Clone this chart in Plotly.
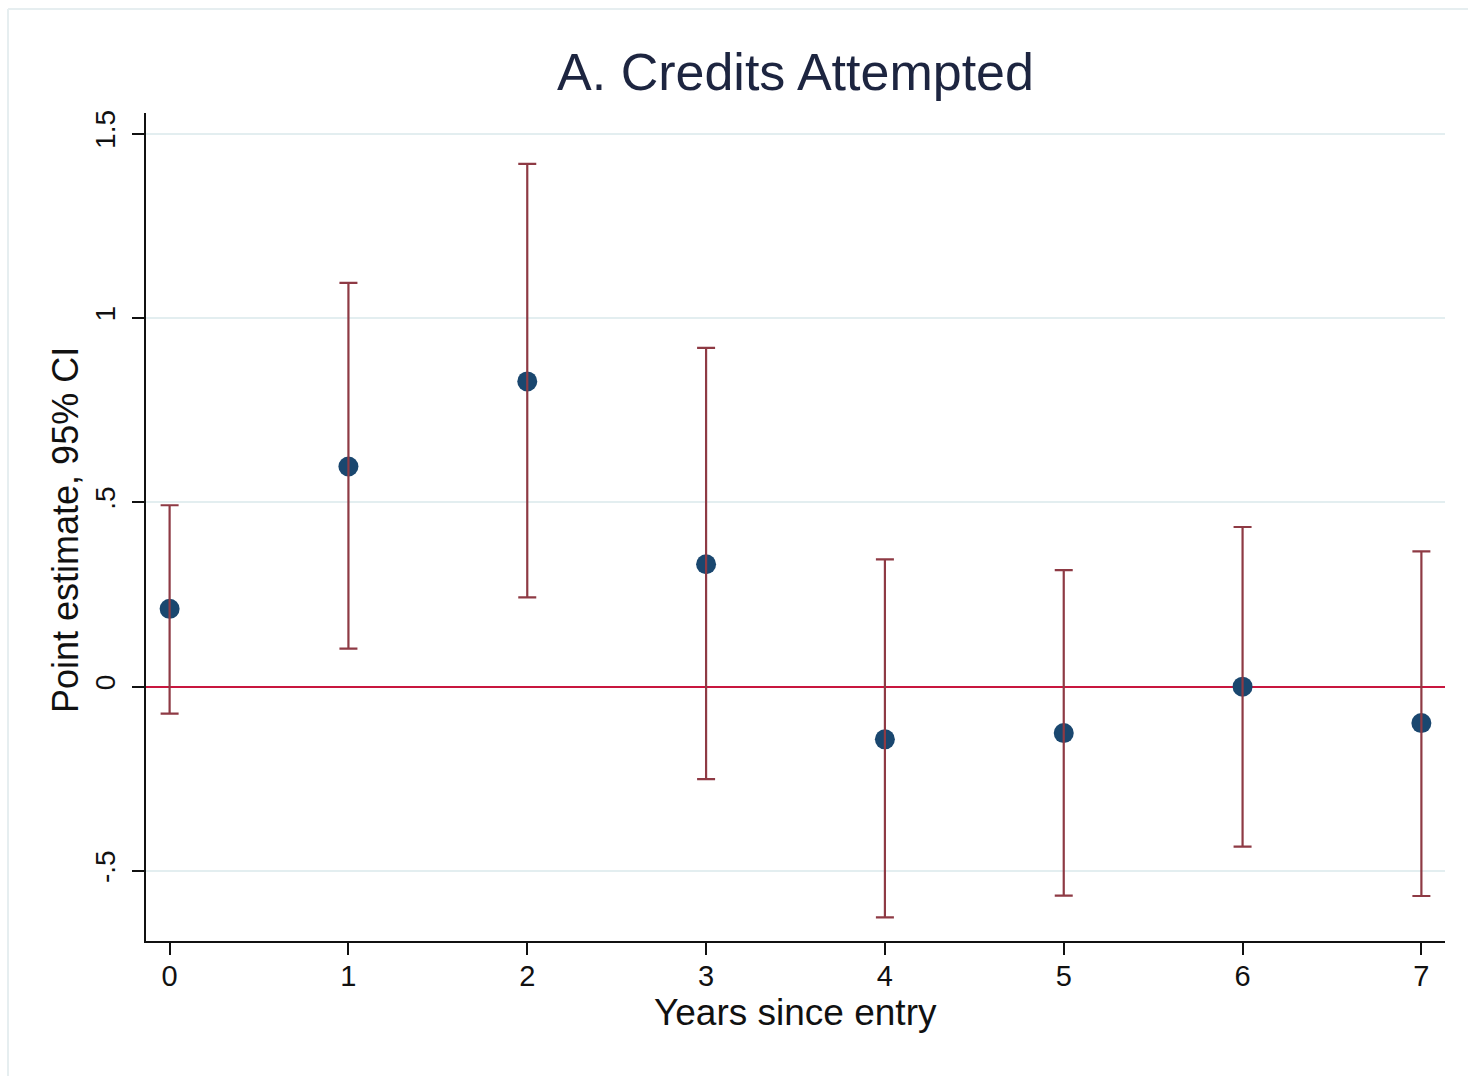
import plotly.graph_objects as go

# Event-study estimates: point estimate and 95% CI by years since entry
years = [0, 1, 2, 3, 4, 5, 6, 7]
estimate = [0.211, 0.597, 0.828, 0.332, -0.143, -0.126, 0.000, -0.099]
ci_low = [-0.073, 0.103, 0.242, -0.251, -0.626, -0.567, -0.434, -0.568]
ci_high = [0.492, 1.095, 1.418, 0.919, 0.345, 0.316, 0.433, 0.367]

y_ticks = [-0.5, 0, 0.5, 1, 1.5]
y_tick_text = ["-.5", "0", ".5", "1", "1.5"]

FONT = "Liberation Sans, Arial, sans-serif"
NAVY = "#1a476f"
MAROON = "#8e3a44"
ZERO_RED = "#c8173f"
GRID = "#e3eef0"

err_plus = [h - e for h, e in zip(ci_high, estimate)]
err_minus = [e - l for e, l in zip(estimate, ci_low)]

fig = go.Figure()

# point estimates
fig.add_trace(go.Scatter(
    x=years, y=estimate, mode="markers",
    marker=dict(color=NAVY, size=20, line=dict(width=0)),
    showlegend=False, hoverinfo="skip",
))

# confidence-interval caps, drawn over the markers
fig.add_trace(go.Scatter(
    x=years, y=estimate, mode="markers",
    marker=dict(color="rgba(0,0,0,0)", size=1),
    error_y=dict(type="data", symmetric=False, array=err_plus,
                 arrayminus=err_minus, color=MAROON, thickness=2.2, width=9),
    showlegend=False, hoverinfo="skip",
))

fig.update_layout(
    width=1468, height=1076,
    margin=dict(l=146, r=23, t=113, b=135),
    paper_bgcolor="white", plot_bgcolor="white",
    font=dict(family=FONT, color="#111111"),
    title=dict(text="A. Credits Attempted", x=0.5, xref="paper", xanchor="center",
               y=1 - 72 / 1076, yref="container", yanchor="middle",
               font=dict(size=52, color="#1d2540", family=FONT)),
    xaxis=dict(range=[-0.132, 7.132], tickvals=years, ticktext=[str(v) for v in years],
               showgrid=False, zeroline=False, showline=True, linecolor="#111111",
               linewidth=2, ticks="outside", ticklen=12, tickwidth=2,
               tickcolor="#111111", tickfont=dict(size=29, color="#111111"),
               ticklabelstandoff=-4),
    yaxis=dict(range=[-0.69, 1.556], tickvals=y_ticks, ticktext=y_tick_text,
               tickangle=-90, showgrid=True, gridcolor=GRID, gridwidth=2,
               zeroline=True, zerolinecolor=ZERO_RED, zerolinewidth=2.2,
               showline=True, linecolor="#111111", linewidth=2,
               ticks="outside", ticklen=12, tickwidth=2, tickcolor="#111111",
               tickfont=dict(size=28, color="#111111"), ticklabelstandoff=6),
    shapes=[
        # faint outer frame of the graph region
        dict(type="line", xref="paper", yref="paper",
             x0=(8 - 146) / 1299, x1=(1468 - 146) / 1299,
             y0=1 + (113 - 9) / 828, y1=1 + (113 - 9) / 828,
             line=dict(color="#e6eef0", width=2)),
        dict(type="line", xref="paper", yref="paper",
             x0=(8 - 146) / 1299, x1=(8 - 146) / 1299,
             y0=1 + (113 - 9) / 828, y1=(941 - 1076) / 828,
             line=dict(color="#e6eef0", width=2)),
    ],
    annotations=[
        dict(text="Years since entry", xref="paper", yref="paper",
             x=0.5, y=(941 - 1012) / 828, xanchor="center", yanchor="middle",
             showarrow=False, font=dict(size=37, color="#111111", family=FONT)),
        dict(text="Point estimate, 95% CI", xref="paper", yref="paper",
             x=(65 - 146) / 1299, y=(941 - 530) / 828, xanchor="center",
             yanchor="middle", textangle=-90, showarrow=False,
             font=dict(size=36, color="#111111", family=FONT)),
    ],
)

fig.write_html("out.html")
